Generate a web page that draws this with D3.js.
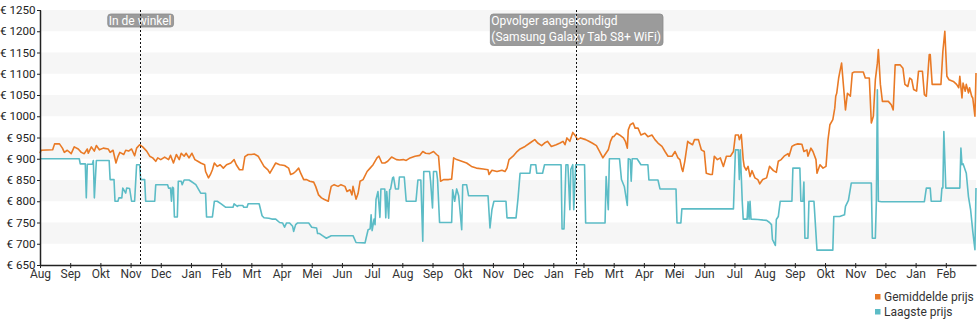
<!DOCTYPE html>
<html>
<head>
<meta charset="utf-8">
<script src="https://cdn.jsdelivr.net/npm/d3@7"></script>
<style>
  html, body { margin: 0; padding: 0; background: #fff; }
  svg { display: block; font-family: Roboto, "Noto Sans", sans-serif; }
</style>
</head>
<body>
<svg id="chart" width="980" height="325"></svg>
<script>
// Month labels for the x axis (one tick per month, Aug 2020 .. Feb 2023)
const monthLabels = ["Aug","Sep","Okt","Nov","Dec","Jan","Feb","Mrt","Apr","Mei","Jun","Jul",
                     "Aug","Sep","Okt","Nov","Dec","Jan","Feb","Mrt","Apr","Mei","Jun","Jul",
                     "Aug","Sep","Okt","Nov","Dec","Jan","Feb"];
const yTicks = [650,700,750,800,850,900,950,1000,1050,1100,1150,1200,1250];
const bandStarts = [700,800,900,1000,1100,1200];

const seriesNames = ["Gemiddelde prijs", "Laagste prijs"];
const seriesColors = ["#e97a26", "#5cbcc6"];

const annotations = [
  { date: "2020-11-10", lines: ["In de winkel"] },
  { date: "2022-01-24", lines: ["Opvolger aangekondigd", "(Samsung Galaxy Tab S8+ WiFi)"] }
];

// Average price
const avgPrice = [
["2020-08-01",913],["2020-08-02",920],["2020-08-14",921],["2020-08-16",935],["2020-08-21",935],["2020-08-24",925],["2020-08-26",915],["2020-08-29",920],
["2020-09-02",912],["2020-09-05",928],["2020-09-09",923],["2020-09-12",915],["2020-09-15",912],["2020-09-18",923],["2020-09-19",913],["2020-09-22",928],["2020-09-25",918],["2020-09-27",931],["2020-09-30",921],
["2020-10-04",925],["2020-10-09",923],["2020-10-11",915],["2020-10-14",920],["2020-10-17",890],["2020-10-19",905],["2020-10-21",915],["2020-10-25",910],["2020-10-27",920],["2020-10-30",918],
["2020-11-02",923],["2020-11-05",907],["2020-11-07",925],["2020-11-10",933],["2020-11-13",928],["2020-11-17",918],["2020-11-20",906],["2020-11-23",902],["2020-11-26",894],["2020-11-28",902],
["2020-12-01",898],["2020-12-05",904],["2020-12-09",898],["2020-12-11",908],["2020-12-14",890],["2020-12-17",910],["2020-12-20",898],["2020-12-22",913],["2020-12-25",906],["2020-12-27",913],["2020-12-30",902],
["2021-01-02",913],["2021-01-05",898],["2021-01-08",894],["2021-01-11",890],["2021-01-15",886],["2021-01-16",870],["2021-01-19",855],["2021-01-21",863],["2021-01-23",874],["2021-01-25",890],["2021-01-28",882],["2021-01-31",886],
["2021-02-03",878],["2021-02-06",886],["2021-02-10",890],["2021-02-13",898],["2021-02-15",886],["2021-02-18",874],["2021-02-21",874],["2021-02-23",905],["2021-02-26",910],
["2021-03-01",910],["2021-03-04",911],["2021-03-08",906],["2021-03-10",898],["2021-03-14",882],["2021-03-18",874],["2021-03-20",866],["2021-03-23",878],["2021-03-26",890],["2021-03-30",886],
["2021-04-04",884],["2021-04-08",878],["2021-04-10",863],["2021-04-13",866],["2021-04-15",870],["2021-04-18",878],["2021-04-20",866],["2021-04-23",851],["2021-04-26",851],["2021-04-29",847],
["2021-05-03",845],["2021-05-05",835],["2021-05-08",815],["2021-05-11",808],["2021-05-14",804],["2021-05-18",800],["2021-05-19",814],["2021-05-21",835],["2021-05-24",839],["2021-05-28",835],["2021-05-31",839],
["2021-06-04",835],["2021-06-06",823],["2021-06-09",827],["2021-06-11",815],["2021-06-12",835],["2021-06-15",805],["2021-06-17",818],["2021-06-19",847],["2021-06-22",851],["2021-06-26",870],["2021-06-29",878],
["2021-07-02",886],["2021-07-06",902],["2021-07-08",906],["2021-07-11",890],["2021-07-14",890],["2021-07-17",894],["2021-07-21",904],["2021-07-26",898],["2021-07-29",897],
["2021-08-02",898],["2021-08-05",896],["2021-08-09",902],["2021-08-14",906],["2021-08-19",908],["2021-08-22",917],["2021-08-25",913],["2021-08-29",912],
["2021-09-02",917],["2021-09-05",910],["2021-09-07",906],["2021-09-09",847],["2021-09-12",851],["2021-09-17",851],["2021-09-20",852],["2021-09-22",902],["2021-09-25",898],["2021-09-30",894],
["2021-10-05",890],["2021-10-10",882],["2021-10-15",878],["2021-10-22",876],["2021-10-27",874],["2021-10-28",863],["2021-10-31",873],
["2021-11-05",870],["2021-11-10",873],["2021-11-13",870],["2021-11-15",878],["2021-11-17",898],["2021-11-21",906],["2021-11-25",917],["2021-11-28",923],
["2021-12-03",929],["2021-12-08",937],["2021-12-13",945],["2021-12-16",937],["2021-12-20",931],["2021-12-23",937],["2021-12-26",941],["2021-12-30",929],
["2022-01-04",933],["2022-01-08",937],["2022-01-11",941],["2022-01-13",933],["2022-01-15",949],["2022-01-18",941],["2022-01-21",962],["2022-01-23",956],["2022-01-26",945],["2022-01-29",949],
["2022-02-03",945],["2022-02-06",941],["2022-02-09",937],["2022-02-13",931],["2022-02-16",917],["2022-02-19",902],["2022-02-21",910],["2022-02-24",921],["2022-02-26",941],["2022-02-28",952],
["2022-03-01",952],["2022-03-04",960],["2022-03-07",956],["2022-03-11",949],["2022-03-13",941],["2022-03-15",925],["2022-03-16",968],["2022-03-18",980],["2022-03-21",984],["2022-03-23",972],["2022-03-26",972],["2022-03-29",956],
["2022-04-02",960],["2022-04-05",952],["2022-04-09",956],["2022-04-12",945],["2022-04-15",937],["2022-04-19",929],["2022-04-22",917],["2022-04-25",906],["2022-04-29",906],
["2022-05-02",917],["2022-05-05",902],["2022-05-07",898],["2022-05-09",876],["2022-05-10",870],["2022-05-12",894],["2022-05-15",941],["2022-05-17",937],["2022-05-20",933],["2022-05-22",945],["2022-05-26",945],["2022-05-29",921],
["2022-06-01",917],["2022-06-03",866],["2022-06-07",863],["2022-06-09",863],["2022-06-11",906],["2022-06-14",898],["2022-06-17",902],["2022-06-20",882],["2022-06-23",906],["2022-06-27",906],["2022-06-30",917],
["2022-07-02",956],["2022-07-05",956],["2022-07-06",945],["2022-07-08",957],["2022-07-10",898],["2022-07-11",882],["2022-07-13",873],["2022-07-15",882],["2022-07-17",858],["2022-07-19",872],["2022-07-22",855],["2022-07-25",851],["2022-07-27",841],["2022-07-30",851],
["2022-08-03",855],["2022-08-06",882],["2022-08-10",872],["2022-08-13",868],["2022-08-15",894],["2022-08-18",898],["2022-08-21",906],["2022-08-25",912],["2022-08-26",906],["2022-08-29",929],
["2022-09-01",933],["2022-09-04",935],["2022-09-08",934],["2022-09-10",917],["2022-09-13",921],["2022-09-14",906],["2022-09-17",925],["2022-09-19",917],["2022-09-22",898],["2022-09-23",866],["2022-09-26",886],["2022-09-29",878],
["2022-10-02",882],["2022-10-04",944],["2022-10-06",980],["2022-10-09",992],["2022-10-11",1019],["2022-10-12",1047],["2022-10-13",1054],["2022-10-15",1090],["2022-10-16",1102],["2022-10-18",1125],["2022-10-20",1070],["2022-10-22",1015],["2022-10-24",1054],["2022-10-27",1047],["2022-10-29",1102],["2022-10-31",1104],
["2022-11-09",1104],["2022-11-11",1090],["2022-11-15",1090],["2022-11-17",984],["2022-11-19",1000],["2022-11-21",1086],["2022-11-23",1125],["2022-11-24",1157],["2022-11-26",1075],["2022-11-28",1035],
["2022-12-04",1035],["2022-12-07",1027],["2022-12-09",1015],["2022-12-11",1121],["2022-12-16",1121],["2022-12-19",1113],["2022-12-21",1075],["2022-12-24",1070],["2022-12-26",1090],["2022-12-28",1086],["2022-12-30",1063],
["2023-01-02",1059],["2023-01-04",1106],["2023-01-08",1106],["2023-01-10",1051],["2023-01-12",1047],["2023-01-14",1113],["2023-01-15",1145],["2023-01-16",1145],["2023-01-18",1075],["2023-01-21",1075],["2023-01-27",1075],["2023-01-29",1153],["2023-01-31",1200],
["2023-02-02",1094],["2023-02-04",1086],["2023-02-08",1082],["2023-02-11",1075],["2023-02-13",1067],["2023-02-14",1094],["2023-02-16",1043],["2023-02-17",1078],["2023-02-19",1059],["2023-02-20",1075],["2023-02-22",1055],["2023-02-23",1067],["2023-02-25",1047],["2023-02-26",1043],["2023-02-28",1000],["2023-03-01",1102]
];

// Lowest price
const lowPrice = [
["2020-08-01",900],["2020-09-10",900],["2020-09-11",888],["2020-09-16",888],["2020-09-17",808],["2020-09-18",887],["2020-09-23",887],["2020-09-24",896],["2020-09-25",808],["2020-09-27",896],["2020-10-10",896],["2020-10-11",851],["2020-10-15",851],["2020-10-16",800],["2020-10-19",800],["2020-10-20",808],["2020-10-23",808],["2020-10-24",831],["2020-10-27",819],["2020-10-28",831],["2020-10-31",830],
["2020-11-02",800],["2020-11-05",800],["2020-11-07",886],["2020-11-10",886],["2020-11-11",851],["2020-11-15",851],["2020-11-16",800],["2020-11-25",800],["2020-11-26",839],["2020-12-08",839],["2020-12-09",831],["2020-12-11",831],["2020-12-12",800],["2020-12-13",833],["2020-12-14",831],["2020-12-15",763],["2020-12-18",763],["2020-12-19",847],["2020-12-22",847],["2020-12-23",839],["2020-12-25",850],["2020-12-30",850],
["2021-01-01",847],["2021-01-06",839],["2021-01-11",819],["2021-01-16",819],["2021-01-17",763],["2021-01-23",763],["2021-01-25",800],["2021-01-28",800],["2021-02-01",794],["2021-02-05",786],["2021-02-12",786],["2021-02-13",794],["2021-02-16",788],["2021-02-17",790],["2021-02-21",790],["2021-02-22",786],["2021-02-25",786],["2021-02-26",794],
["2021-03-09",794],["2021-03-12",766],["2021-03-14",761],["2021-03-19",760],["2021-03-22",758],["2021-03-26",758],["2021-03-30",750],["2021-04-02",749],["2021-04-04",739],["2021-04-06",749],["2021-04-09",749],["2021-04-12",741],["2021-04-13",729],["2021-04-15",745],["2021-04-17",749],["2021-04-28",749],
["2021-05-01",739],["2021-05-06",737],["2021-05-07",724],["2021-05-09",724],["2021-05-12",719],["2021-05-16",713],["2021-05-21",719],["2021-06-12",719],["2021-06-15",703],["2021-06-24",702],["2021-06-25",713],["2021-06-27",733],["2021-06-29",735],["2021-06-30",768],
["2021-07-01",731],["2021-07-03",758],["2021-07-04",745],["2021-07-05",804],["2021-07-07",823],["2021-07-09",762],["2021-07-10",829],["2021-07-14",829],["2021-07-15",761],["2021-07-16",823],["2021-07-18",760],["2021-07-19",827],["2021-07-20",829],["2021-07-22",855],["2021-07-23",857],["2021-07-25",829],["2021-07-28",829],["2021-07-29",857],
["2021-08-03",857],["2021-08-05",800],["2021-08-15",800],["2021-08-17",850],["2021-08-20",850],["2021-08-22",706],["2021-08-23",870],["2021-08-29",870],["2021-08-30",847],["2021-09-01",784],["2021-09-02",870],["2021-09-05",870],["2021-09-06",851],["2021-09-08",750],["2021-09-20",750],["2021-09-21",827],["2021-09-23",800],["2021-09-25",829],["2021-09-27",813],["2021-09-30",733],
["2021-10-01",839],["2021-10-05",839],["2021-10-07",813],["2021-10-27",813],["2021-10-29",737],["2021-10-31",780],["2021-11-02",800],["2021-11-14",800],["2021-11-15",761],["2021-11-24",761],["2021-11-26",808],["2021-11-28",866],["2021-12-08",866],["2021-12-09",886],["2021-12-14",886],["2021-12-15",866],["2021-12-21",866],["2021-12-23",886],
["2022-01-09",886],["2022-01-10",735],["2022-01-12",735],["2022-01-14",886],["2022-01-16",886],["2022-01-18",780],["2022-01-19",875],["2022-01-21",886],["2022-01-22",780],["2022-01-24",886],["2022-02-02",886],["2022-02-03",749],["2022-02-21",749],["2022-02-22",858],["2022-02-24",780],["2022-02-25",900],
["2022-03-07",900],["2022-03-09",851],["2022-03-12",834],["2022-03-15",790],["2022-03-16",900],["2022-03-18",898],["2022-03-19",847],["2022-03-20",900],["2022-03-25",900],["2022-03-29",886],["2022-04-05",886],["2022-04-06",850],["2022-04-15",850],["2022-04-17",829],["2022-05-03",829],["2022-05-04",749],["2022-05-08",749],["2022-05-09",782],
["2022-06-30",782],["2022-07-02",921],["2022-07-05",921],["2022-07-06",851],["2022-07-07",921],["2022-07-09",800],["2022-07-10",758],["2022-07-14",758],["2022-07-15",799],["2022-07-16",758],["2022-07-17",800],["2022-07-18",758],["2022-07-25",757],
["2022-08-03",755],["2022-08-06",750],["2022-08-08",745],["2022-08-09",710],["2022-08-12",696],["2022-08-13",757],["2022-08-15",764],["2022-08-17",800],["2022-08-29",800],["2022-08-30",878],["2022-09-06",878],["2022-09-07",800],["2022-09-09",800],["2022-09-10",845],["2022-09-11",713],["2022-09-14",713],["2022-09-15",800],["2022-09-20",800],["2022-09-23",685],
["2022-10-09",685],["2022-10-10",764],["2022-10-16",764],["2022-10-21",768],["2022-10-22",788],["2022-10-25",802],["2022-10-28",843],["2022-11-17",843],["2022-11-18",713],["2022-11-21",713],["2022-11-22",800],["2022-11-23",1062],["2022-11-24",800],["2022-11-27",799],
["2023-01-10",799],["2023-01-12",831],["2023-01-16",831],["2023-01-17",800],["2023-01-27",800],["2023-01-28",831],["2023-01-29",831],["2023-01-30",964],["2023-02-01",831],["2023-02-14",831],["2023-02-15",925],["2023-02-16",886],["2023-02-17",888],["2023-02-20",866],["2023-02-22",811],["2023-02-24",780],["2023-02-26",729],["2023-02-28",686],["2023-03-01",831]
];

// Fractional month index since August 2020 (each month gets equal width)
function monthPos(s) {
  const [Y, M, D] = s.split("-").map(Number);
  const idx = (Y - 2020) * 12 + (M - 1) - 7;
  const daysIn = new Date(Y, M, 0).getDate();
  return idx + (D - 1) / daysIn;
}

const svg = d3.select("#chart");
const x = d3.scaleLinear().domain([0, 31]).range([40, 976]);
const y = d3.scaleLinear().domain([650, 1250]).range([265, 10]);

// Alternating horizontal bands
svg.append("g").selectAll("rect").data(bandStarts).join("rect")
  .attr("x", x(0)).attr("width", x(31) - x(0))
  .attr("y", d => y(d + 50)).attr("height", d => y(d) - y(d + 50))
  .attr("fill", "#f6f6f6");

// Price lines
const line = d3.line().x(d => x(monthPos(d[0]))).y(d => y(d[1]));
[avgPrice, lowPrice].forEach((data, i) => {
  svg.append("path").datum(data)
    .attr("d", line)
    .attr("fill", "none")
    .attr("stroke", seriesColors[i])
    .attr("stroke-width", 1.6)
    .attr("stroke-linejoin", "round");
});

// Y axis
const yAxis = svg.append("g").attr("transform", `translate(${x(0)},0)`)
  .call(d3.axisLeft(y).tickValues(yTicks).tickFormat(d => "€ " + d)
    .tickSize(3).tickSizeOuter(0).tickPadding(1.5));
yAxis.select(".domain").attr("stroke", "#222").attr("stroke-width", 1.5);
yAxis.selectAll(".tick line").attr("stroke", "#222").attr("x2", -3).attr("x1", 1);
yAxis.selectAll("text").attr("font-size", 11.6).attr("font-family", "Roboto").attr("fill", "#222");

// X axis
const xAxis = svg.append("g").attr("transform", `translate(0,${y(650)})`)
  .call(d3.axisBottom(x).tickValues(d3.range(31)).tickFormat(i => monthLabels[i])
    .tickSize(3).tickSizeOuter(0));
xAxis.select(".domain").attr("stroke", "#222").attr("stroke-width", 1.5);
xAxis.selectAll(".tick line").attr("stroke", "#222").attr("y1", -2).attr("y2", 3);
xAxis.selectAll("text").attr("font-size", 12).attr("font-family", "Roboto")
  .attr("fill", "#333").attr("y", 4).attr("dy", "0.71em");

// Annotations: label boxes with dotted markers on top
const annG = svg.append("g");
annotations.forEach(a => {
  const ax = x(monthPos(a.date));
  const g = annG.append("g");
  const rect = g.append("rect").attr("fill", "#9b9b9b").attr("stroke", "#8a8a8a")
    .attr("stroke-width", 0.8).attr("rx", 3).attr("ry", 3);
  const texts = a.lines.map((t, k) => g.append("text")
    .attr("font-size", 12).attr("font-family", "Roboto").attr("fill", "#fff")
    .attr("y", 25 + k * 15.5).text(t));
  const w = d3.max(texts, t => t.node().getComputedTextLength());
  const bx = ax - (w + 3) / 2 + 1;
  texts.forEach(t => t.attr("x", bx + 1));
  rect.attr("x", bx).attr("y", 14).attr("width", w + 3).attr("height", 13 + (a.lines.length - 1) * 18.5);
});
annotations.forEach(a => {
  const ax = Math.round(x(monthPos(a.date))) + 0.5;
  annG.append("line").attr("x1", ax).attr("x2", ax).attr("y1", y(1250)).attr("y2", y(650))
    .attr("stroke", "#111").attr("stroke-width", 1).attr("stroke-dasharray", "2,2");
});

// Legend
const leg = svg.append("g");
seriesNames.forEach((n, i) => {
  leg.append("rect").attr("x", 875).attr("y", 294 + i * 15).attr("width", 5.5).attr("height", 5.5)
    .attr("fill", seriesColors[i]);
  leg.append("text").attr("x", 884).attr("y", 300.5 + i * 15)
    .attr("font-size", 12).attr("font-family", "Roboto").attr("fill", "#333").text(n);
});
</script>
</body>
</html>
